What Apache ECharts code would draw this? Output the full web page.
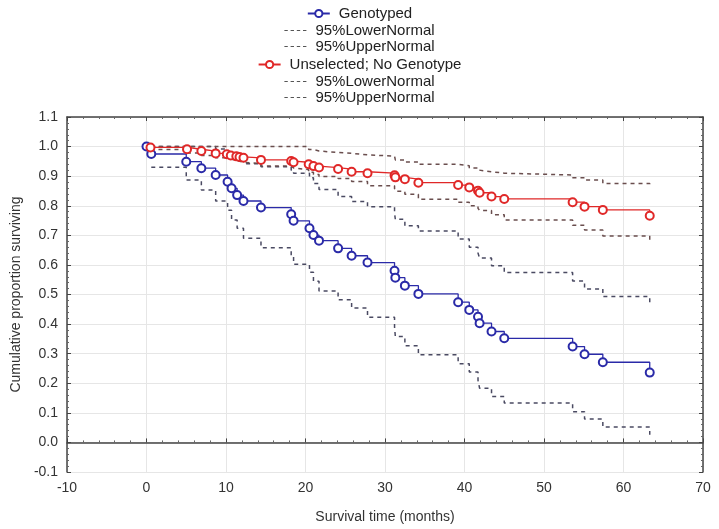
<!DOCTYPE html>
<html>
<head>
<meta charset="utf-8">
<script src="https://cdn.jsdelivr.net/npm/echarts@6/dist/echarts.min.js"></script>
<style>
  html, body { margin: 0; padding: 0; background: #fff; }
  #chart { width: 719px; height: 529px; }
</style>
</head>
<body>
<div id="chart"></div>
<script>
// ---- Data ----
const genoTime = [0, 0.6, 5.0, 6.9, 8.7, 10.2, 10.7, 11.4, 12.2, 14.4, 18.2, 18.5, 20.5, 21.0, 21.7, 24.1, 25.8, 27.8, 31.2, 31.3, 32.5, 34.2, 39.2, 40.6, 41.7, 41.9, 43.4, 45.0, 53.6, 55.1, 57.4, 63.3];
const genoSurv = [1.0, 0.975, 0.949, 0.927, 0.904, 0.881, 0.859, 0.836, 0.816, 0.794, 0.771, 0.749, 0.724, 0.701, 0.682, 0.656, 0.631, 0.608, 0.580, 0.557, 0.530, 0.502, 0.474, 0.448, 0.425, 0.403, 0.375, 0.352, 0.324, 0.298, 0.271, 0.236];
// bands start at the first event (genoTime[1] onward)
const genoLower = [0.930, 0.887, 0.853, 0.816, 0.785, 0.752, 0.724, 0.690, 0.658, 0.630, 0.602, 0.575, 0.545, 0.512, 0.482, 0.454, 0.423, 0.390, 0.358, 0.327, 0.296, 0.266, 0.238, 0.210, 0.183, 0.155, 0.133, 0.104, 0.079, 0.052, 0.026];
const genoUpper = [1.0, 1.0, 1.0, 0.992, 0.975, 0.962, 0.952, 0.942, 0.932, 0.920, 0.910, 0.895, 0.875, 0.855, 0.831, 0.814, 0.797, 0.775, 0.754, 0.732, 0.715, 0.688, 0.660, 0.640, 0.623, 0.597, 0.574, 0.546, 0.519, 0.493, 0.462];

const unselTime = [0.5, 5.1, 6.9, 8.7, 10.1, 10.6, 11.3, 11.7, 12.2, 14.4, 18.2, 18.5, 20.4, 21.0, 21.7, 24.1, 25.8, 27.8, 31.2, 31.3, 32.5, 34.2, 39.2, 40.6, 41.7, 41.9, 43.4, 45.0, 53.6, 55.1, 57.4, 63.3];
const unselSurv = [0.997, 0.991, 0.985, 0.977, 0.974, 0.970, 0.967, 0.965, 0.962, 0.955, 0.951, 0.947, 0.940, 0.934, 0.929, 0.924, 0.915, 0.910, 0.903, 0.896, 0.890, 0.878, 0.870, 0.862, 0.851, 0.844, 0.831, 0.823, 0.812, 0.797, 0.786, 0.766];
const unselLower = [0.990, 0.978, 0.970, 0.962, 0.958, 0.954, 0.950, 0.947, 0.943, 0.934, 0.928, 0.922, 0.913, 0.906, 0.899, 0.892, 0.882, 0.868, 0.858, 0.849, 0.839, 0.822, 0.812, 0.800, 0.791, 0.784, 0.770, 0.752, 0.734, 0.718, 0.698, 0.684];
const unselUpper = [1.0, 1.0, 1.0, 1.0, 1.0, 1.0, 1.0, 1.0, 1.0, 1.0, 1.0, 1.0, 0.990, 0.985, 0.980, 0.977, 0.972, 0.968, 0.962, 0.955, 0.948, 0.940, 0.935, 0.928, 0.921, 0.915, 0.910, 0.904, 0.895, 0.887, 0.875, 0.864];

const legendNames = ['Genotyped', '95%LowerNormal', '95%UpperNormal', 'Unselected; No Genotype', '95%LowerNormal', '95%UpperNormal'];
const xTicks = { min: -10, max: 70, step: 10 };
const yTicks = { min: -0.1, max: 1.1, step: 0.1 };

// ---- Build ----
const zip = (t, v) => v.map((y, i) => [t[i], y]);
const FONT = '"Liberation Sans", Arial, sans-serif';
const BLUE = '#2a2aa8';
const RED = '#e02828';
const BLUE_BAND = '#4a4a62';
const RED_BAND = '#6a4e4e';
const DASH_ICON = 'path://M0,0h3v1h-3z M5.5,0h3v1h-3z M11,0h3v1h-3z M16.5,0h3v1h-3z';

const bandStyle = (c) => ({ color: c, width: 1.5, type: [4, 4] });

const series = [
  { name: legendNames[1], type: 'line', step: 'end', symbol: 'none', data: zip(genoTime.slice(1), genoLower), lineStyle: bandStyle(BLUE_BAND), itemStyle: { color: BLUE_BAND } },
  { name: legendNames[2], type: 'line', step: 'end', symbol: 'none', data: zip(genoTime.slice(1), genoUpper), lineStyle: bandStyle(BLUE_BAND), itemStyle: { color: BLUE_BAND } },
  { name: legendNames[4], type: 'line', step: 'end', symbol: 'none', data: zip(unselTime, unselLower), lineStyle: bandStyle(RED_BAND), itemStyle: { color: RED_BAND } },
  { name: legendNames[5], type: 'line', step: 'end', symbol: 'none', data: zip(unselTime, unselUpper), lineStyle: bandStyle(RED_BAND), itemStyle: { color: RED_BAND } },
  { name: legendNames[0], type: 'line', step: 'end', symbol: 'emptyCircle', symbolSize: 8, data: zip(genoTime, genoSurv),
    lineStyle: { color: BLUE, width: 1.3 }, itemStyle: { color: BLUE, borderColor: BLUE, borderWidth: 2 } },
  { name: legendNames[3], type: 'line', step: 'end', symbol: 'emptyCircle', symbolSize: 8, data: zip(unselTime, unselSurv),
    lineStyle: { color: RED, width: 1.3 }, itemStyle: { color: RED, borderColor: RED, borderWidth: 2 } }
];

const legendRowsY = [6, 23, 39, 57, 74, 90];
const legends = legendNames.map((n, i) => {
  const isBand = n.indexOf('95%') === 0;
  const lg = {
    data: [isBand ? { name: n, icon: DASH_ICON } : n],
    left: 'center', top: legendRowsY[i], padding: 0,
    itemWidth: 22, itemHeight: 9, selectedMode: false,
    textStyle: { fontFamily: FONT, fontSize: 15, color: '#222', padding: [0, 0, 0, 4] }
  };
  if (isBand) lg.itemStyle = { color: '#555' };
  return lg;
});

const axisLineStyle = { color: '#444', width: 1.5 };
const gridLine = { show: true, lineStyle: { color: '#e6e6e6', width: 1 } };

const chart = echarts.init(document.getElementById('chart'), null, { renderer: 'canvas' });
chart.setOption({
  animation: false,
  backgroundColor: '#fff',
  legend: legends,
  grid: { left: 67, right: 16, top: 117, bottom: 57, containLabel: false },
  xAxis: [
    { type: 'value', min: xTicks.min, max: xTicks.max, interval: xTicks.step, position: 'bottom',
      name: 'Survival time (months)', nameLocation: 'middle', nameGap: 38,
      nameTextStyle: { fontFamily: FONT, fontSize: 14, color: '#333' },
      axisLine: { show: true, lineStyle: axisLineStyle },
      axisTick: { show: true, inside: true, length: 4, lineStyle: { color: '#444' } },
      minorTick: { show: true, splitNumber: 5, length: 2, lineStyle: { color: '#666' } },
      axisLabel: { fontFamily: FONT, fontSize: 14, color: '#333', margin: 9 },
      splitLine: gridLine },
    { type: 'value', min: xTicks.min, max: xTicks.max, interval: xTicks.step, position: 'top',
      axisLine: { show: true, onZero: false, lineStyle: axisLineStyle },
      axisTick: { show: true, inside: true, length: 4, lineStyle: { color: '#444' } },
      minorTick: { show: true, splitNumber: 5, length: 2, lineStyle: { color: '#666' } },
      axisLabel: { show: false }, splitLine: { show: false } }
  ],
  yAxis: [
    { type: 'value', min: yTicks.min, max: yTicks.max, interval: yTicks.step, position: 'left',
      name: 'Cumulative proportion surviving', nameLocation: 'middle', nameGap: 40,
      nameTextStyle: { fontFamily: FONT, fontSize: 14, color: '#333' },
      axisLine: { show: true, onZero: false, lineStyle: axisLineStyle },
      axisTick: { show: true, inside: true, length: 4, lineStyle: { color: '#444' } },
      minorTick: { show: true, splitNumber: 5, length: 2, lineStyle: { color: '#666' } },
      axisLabel: { fontFamily: FONT, fontSize: 14, color: '#333', margin: 9, formatter: v => v.toFixed(1) },
      splitLine: gridLine },
    { type: 'value', min: yTicks.min, max: yTicks.max, interval: yTicks.step, position: 'right',
      axisLine: { show: true, onZero: false, lineStyle: axisLineStyle },
      axisTick: { show: true, inside: true, length: 4, lineStyle: { color: '#444' } },
      minorTick: { show: true, splitNumber: 5, length: 2, lineStyle: { color: '#666' } },
      axisLabel: { show: false }, splitLine: { show: false } }
  ],
  series: series
});
</script>
</body>
</html>
